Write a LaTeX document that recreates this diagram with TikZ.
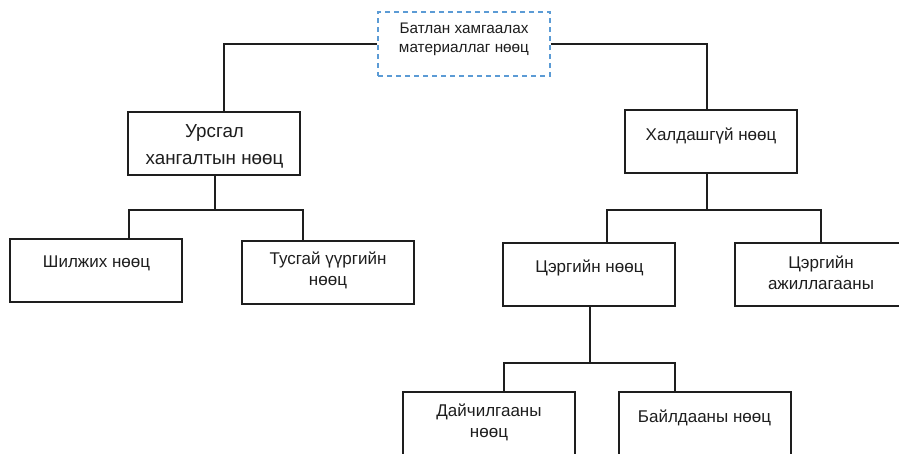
\documentclass[tikz,border=0pt]{standalone}
\usepackage{fontspec}
\setmainfont{Liberation Sans}
\definecolor{dashblue}{HTML}{5B9BD5}
\definecolor{ink}{HTML}{1E1E1E}
\begin{document}
\begin{tikzpicture}[x=1pt,y=-1pt,
  box/.style={draw=ink,line width=1.7pt,rectangle,minimum width=172pt,minimum height=63pt,inner sep=0pt},
  topbox/.style={draw=dashblue,line width=1.6pt,dash pattern=on 5pt off 4pt,rectangle,minimum width=172pt,minimum height=64pt,inner sep=0pt},
  conn/.style={draw=ink,line width=1.6pt},
  lbl/.style={text=ink,align=center,inner sep=0pt,font=\fontsize{17}{21}\selectfont},
  lblbig/.style={text=ink,align=center,inner sep=0pt,font=\fontsize{18.8}{27}\selectfont},
  lblsmall/.style={text=ink,align=center,inner sep=0pt,font=\fontsize{15.3}{19}\selectfont}]
\useasboundingbox[fill=white] (0,0) rectangle (899,453);

% boxes
\node[topbox] (top) at (464,44) {};
\node[box] (ursgal) at (214,143.5) {};
\node[box] (hald) at (711,141.5) {};
\node[box] (shil) at (96,270.5) {};
\node[box] (tusg) at (328,272.5) {};
\node[box] (tserg) at (589,274.5) {};
\node[box] (azh) at (821,274.5) {};
\node[box] (daich) at (489,423.5) {};
\node[box] (baild) at (705,423.5) {};

% labels
\node[lblsmall] (ttop) at (464,39) {Батлан хамгаалах\\материаллаг нөөц};
\node[lblbig] (tursgal) at (214.5,146.5) {Урсгал\\хангалтын нөөц};
\node[lbl] (thald) at (711,135.5) {Халдашгүй нөөц};
\node[lbl] (tshil) at (96.5,263.5) {Шилжих нөөц};
\node[lbl] (ttusg) at (328,270) {Тусгай үүргийн\\нөөц};
\node[lbl] (ttserg) at (589.5,267.5) {Цэргийн нөөц};
\node[lbl] (tazh) at (821,273) {Цэргийн\\ажиллагааны};
\node[lbl] (tdaich) at (489,422.5) {Дайчилгааны\\нөөц};
\node[lbl] (tbaild) at (704.5,417.5) {Байлдааны нөөц};

% junctions
\coordinate (j1) at (215,210);
\coordinate (j2) at (707,210);
\coordinate (j3) at (590,363);

% connectors
\draw[conn] (top.west) -| ([xshift=10pt]ursgal.north);
\draw[conn] (top.east) -| ([xshift=-4pt]hald.north);
\draw[conn] ([xshift=1pt]ursgal.south) -- (j1);
\draw[conn] ([xshift=33pt]shil.north) |- (j1) -| ([xshift=-25pt]tusg.north);
\draw[conn] ([xshift=-4pt]hald.south) -- (j2);
\draw[conn] ([xshift=18pt]tserg.north) |- (j2) -| (azh.north);
\draw[conn] ([xshift=1pt]tserg.south) -- (j3);
\draw[conn] ([xshift=15pt]daich.north) |- (j3) -| ([xshift=-30pt]baild.north);
\end{tikzpicture}
\end{document}
